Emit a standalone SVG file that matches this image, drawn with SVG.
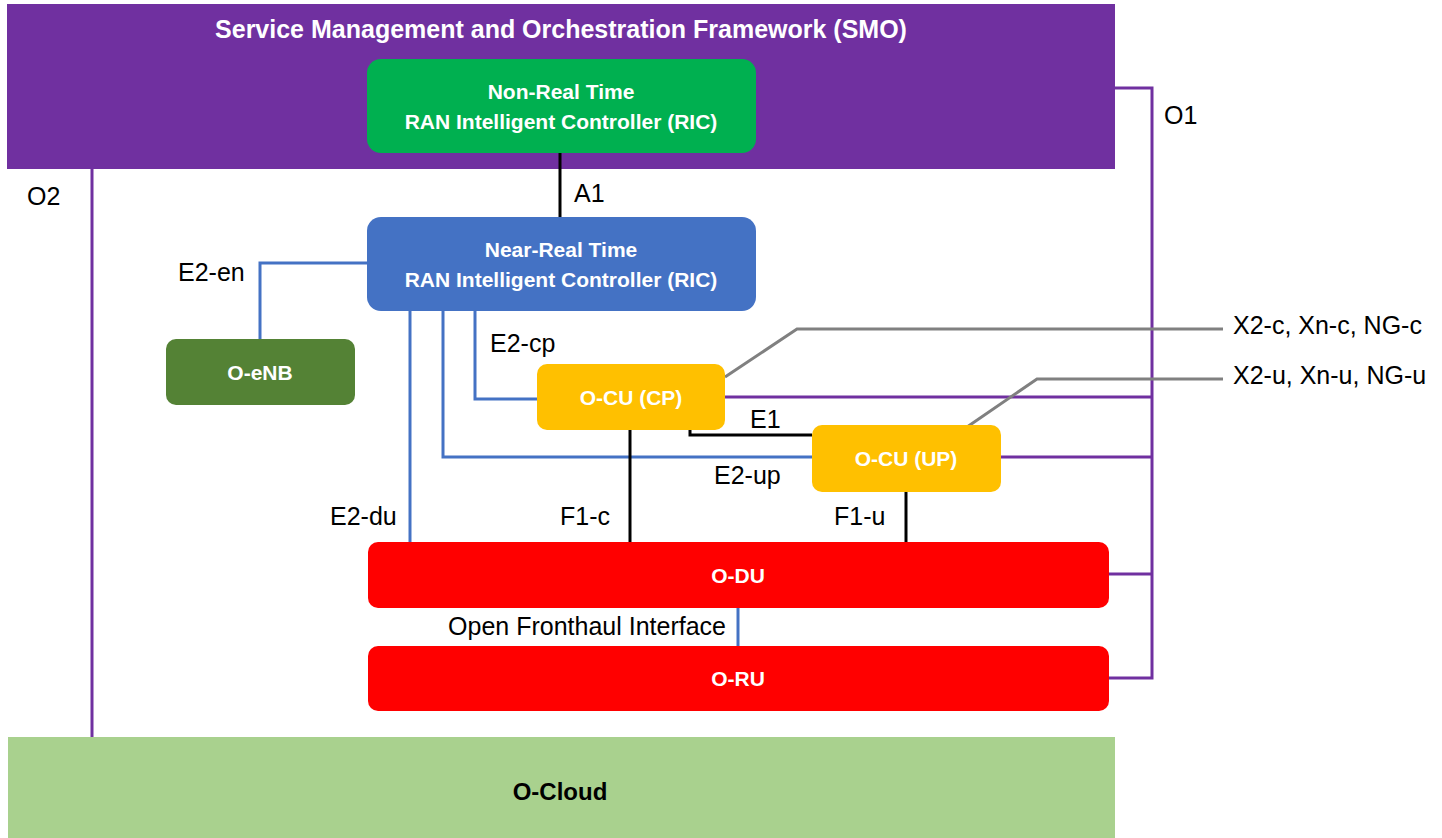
<svg xmlns="http://www.w3.org/2000/svg" width="1442" height="838" viewBox="0 0 1442 838">
<style>
.lbl{font-family:"Liberation Sans",Arial,sans-serif;font-size:25px;fill:#000}
.bt{font-family:"Liberation Sans",Arial,sans-serif;font-weight:bold;fill:#fff;text-anchor:middle}
.p{stroke:#7030A0;stroke-width:3;fill:none}
.b{stroke:#4472C4;stroke-width:3;fill:none}
.k{stroke:#000;stroke-width:3;fill:none}
.g{stroke:#808080;stroke-width:3;fill:none}
</style>
<rect width="1442" height="838" fill="#fff"/>
<g id="smo">
<rect x="7" y="4" width="1108" height="165" fill="#7030A0"/>
<text class="bt" x="561" y="38" font-size="25">Service Management and Orchestration Framework (SMO)</text>
</g>
<g id="ocloud">
<rect x="8" y="737" width="1107" height="101" fill="#A9D18E"/>
<text class="bt" x="560" y="800" font-size="24" style="fill:#000">O-Cloud</text>
</g>
<g id="connectors">
<path class="k" d="M560 153V217"/>
<path class="p" d="M92 169V737"/>
<path class="p" d="M1115 88H1152V678H1109M725 397H1152M1001 457H1152M1109 574H1152"/>
<path class="b" d="M367 263H260V339"/>
<path class="b" d="M475 311V399H537"/>
<path class="b" d="M443 311V457H812"/>
<path class="b" d="M410 311V542"/>
<path class="b" d="M738 608V646"/>
<path class="k" d="M690 430V435H812"/>
<path class="k" d="M630 430V542"/>
<path class="k" d="M906 492V542"/>
<path class="g" d="M725 377L797 329H1223"/>
<path class="g" d="M967 427L1037 379H1223"/>
</g>
<g id="labels">
<text class="lbl" x="27" y="205">O2</text>
<text class="lbl" x="574" y="202">A1</text>
<text class="lbl" x="1164" y="124">O1</text>
<text class="lbl" x="178" y="281">E2-en</text>
<text class="lbl" x="490" y="352">E2-cp</text>
<text class="lbl" x="750" y="428">E1</text>
<text class="lbl" x="714" y="484">E2-up</text>
<text class="lbl" x="330" y="525">E2-du</text>
<text class="lbl" x="560" y="525">F1-c</text>
<text class="lbl" x="834" y="525">F1-u</text>
<text class="lbl" x="726" y="635" text-anchor="end">Open Fronthaul Interface</text>
<text class="lbl" x="1233" y="334">X2-c, Xn-c, NG-c</text>
<text class="lbl" x="1233" y="384">X2-u, Xn-u, NG-u</text>
</g>
<g id="nonrt-ric">
<rect x="367" y="59" width="389" height="94" rx="14" fill="#00B050"/>
<text class="bt" x="561" y="99" font-size="21">Non-Real Time</text>
<text class="bt" x="561" y="129" font-size="21">RAN Intelligent Controller (RIC)</text>
</g>
<g id="nearrt-ric">
<rect x="367" y="217" width="389" height="94" rx="14" fill="#4472C4"/>
<text class="bt" x="561" y="257" font-size="21">Near-Real Time</text>
<text class="bt" x="561" y="287" font-size="21">RAN Intelligent Controller (RIC)</text>
</g>
<g id="oenb">
<rect x="166" y="339" width="189" height="66" rx="10" fill="#548235"/>
<text class="bt" x="260" y="380" font-size="21">O-eNB</text>
</g>
<g id="ocu-cp">
<rect x="537" y="364" width="188" height="66" rx="10" fill="#FFC000"/>
<text class="bt" x="631" y="405" font-size="21">O-CU (CP)</text>
</g>
<g id="ocu-up">
<rect x="812" y="425" width="189" height="67" rx="10" fill="#FFC000"/>
<text class="bt" x="906" y="466" font-size="21">O-CU (UP)</text>
</g>
<g id="odu">
<rect x="368" y="542" width="741" height="66" rx="10" fill="#FF0000"/>
<text class="bt" x="738" y="583" font-size="21">O-DU</text>
</g>
<g id="oru">
<rect x="368" y="646" width="741" height="65" rx="10" fill="#FF0000"/>
<text class="bt" x="738" y="686" font-size="21">O-RU</text>
</g>
</svg>
